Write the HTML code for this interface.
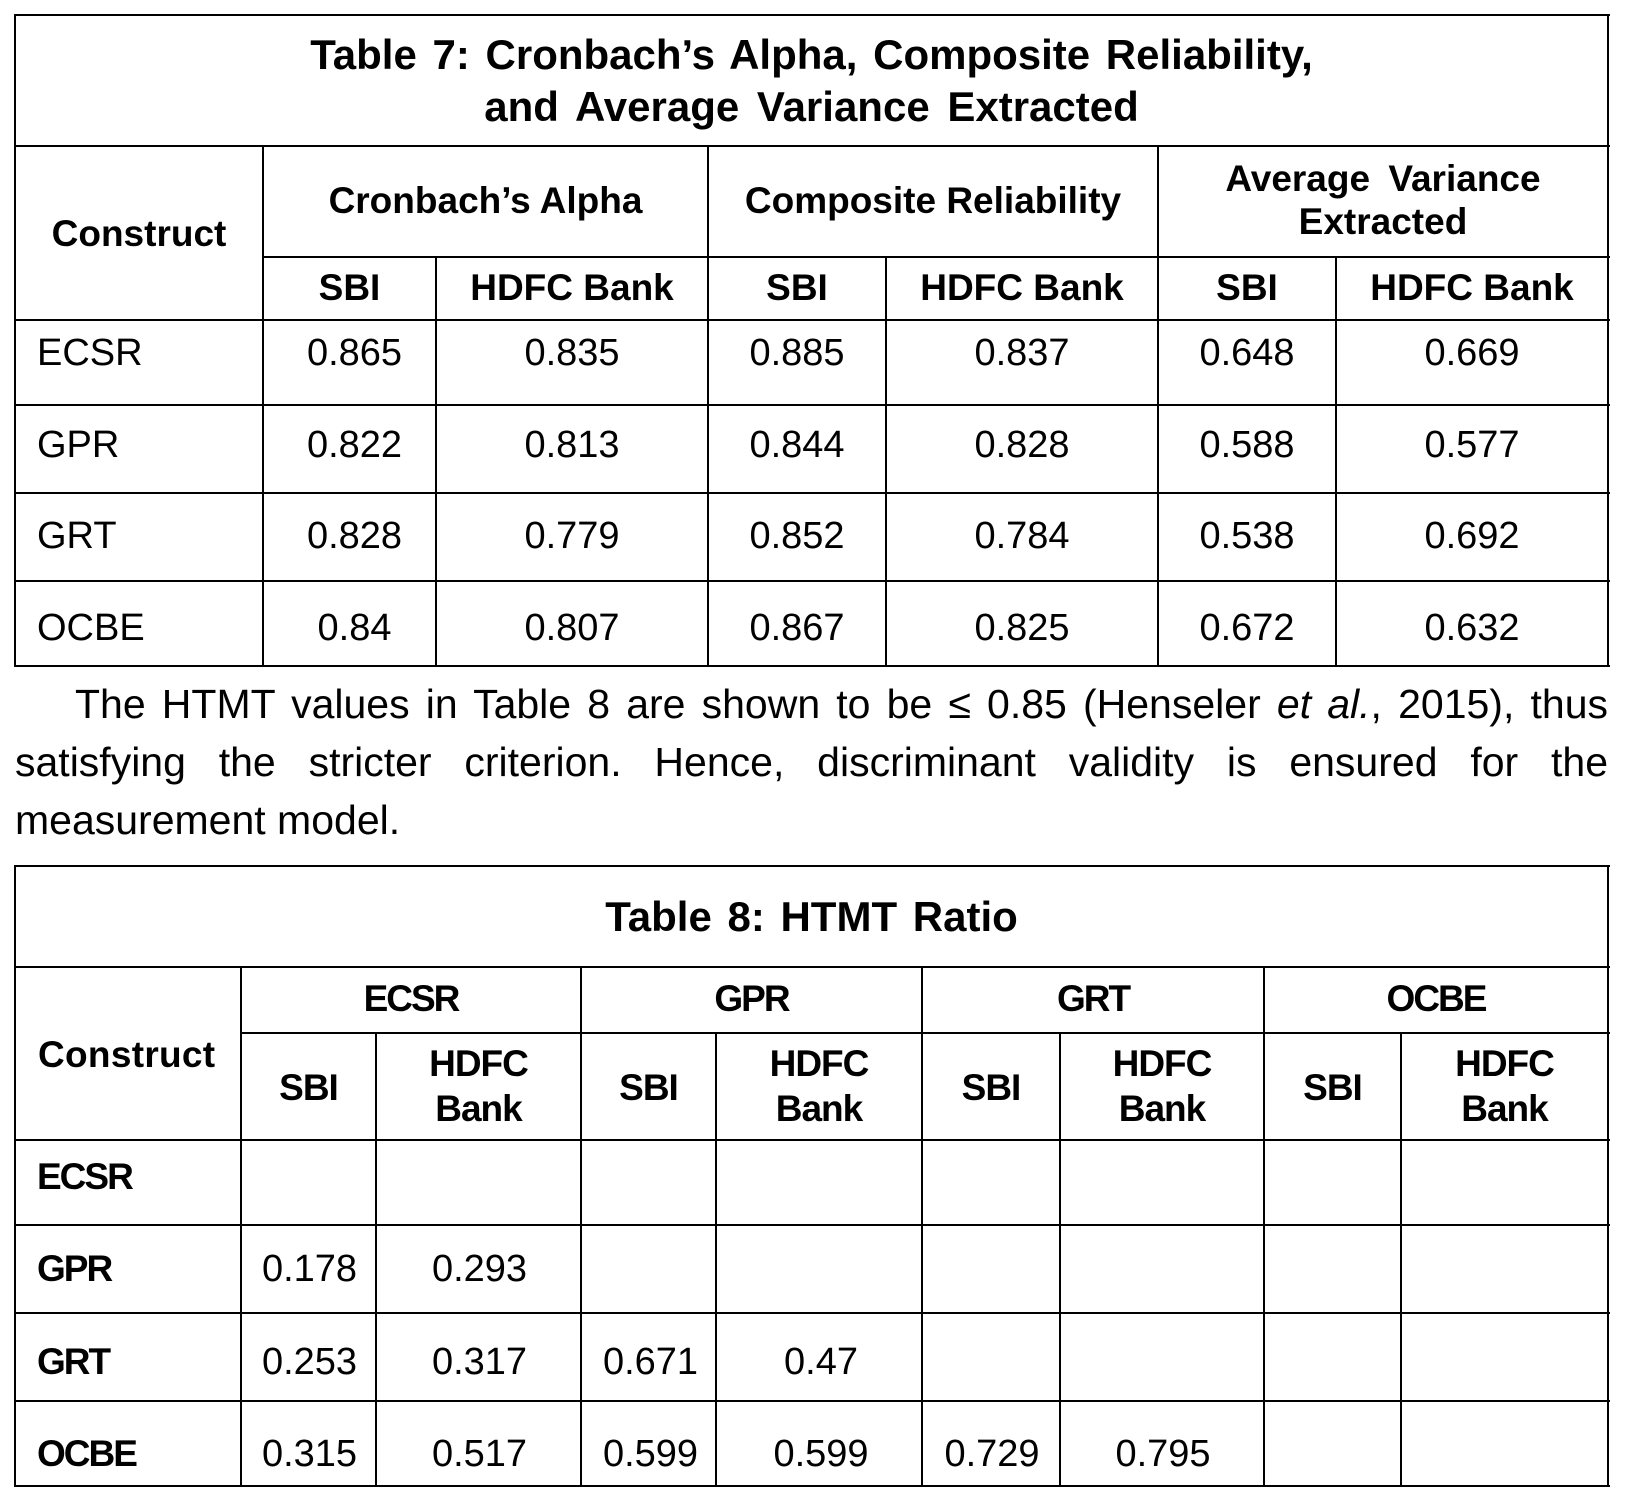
<!DOCTYPE html>
<html>
<head>
<meta charset="utf-8">
<style>
html,body{margin:0;padding:0;background:#fff;}
body{width:1629px;height:1506px;position:relative;overflow:hidden;font-family:"Liberation Sans",Arial,sans-serif;color:#000;}
.h{position:absolute;height:2px;background:#000;}
.v{position:absolute;width:2px;background:#000;}
.c{position:absolute;text-align:center;line-height:50px;height:50px;white-space:nowrap;}
.l{text-align:left;}
.ti{font-size:42px;font-weight:bold;word-spacing:4px;}
.hd{font-size:37px;font-weight:bold;}
.d{font-size:38px;}
.tt{letter-spacing:-2px;}
.t1{letter-spacing:-1px;}
.p{position:absolute;font-size:41px;line-height:50px;height:50px;text-align:justify;text-align-last:justify;}
</style>
</head>
<body>
<!-- TABLE 7 LINES -->
<div class="h" style="left:14px;width:1596px;top:14px"></div>
<div class="h" style="left:14px;width:1596px;top:145px"></div>
<div class="h" style="left:262px;width:1348px;top:256px"></div>
<div class="h" style="left:14px;width:1596px;top:319px"></div>
<div class="h" style="left:14px;width:1596px;top:404px"></div>
<div class="h" style="left:14px;width:1596px;top:492px"></div>
<div class="h" style="left:14px;width:1596px;top:580px"></div>
<div class="h" style="left:14px;width:1596px;top:665px"></div>

<div class="v" style="left:14px;top:14px;height:653px"></div>
<div class="v" style="left:1607px;top:14px;height:653px"></div>
<div class="v" style="left:262px;top:145px;height:521px"></div>
<div class="v" style="left:707px;top:145px;height:521px"></div>
<div class="v" style="left:1157px;top:145px;height:521px"></div>
<div class="v" style="left:435px;top:256px;height:410px"></div>
<div class="v" style="left:885px;top:256px;height:410px"></div>
<div class="v" style="left:1335px;top:256px;height:410px"></div>

<!-- TABLE 7 TEXT -->
<div class="c ti" style="left:15px;width:1593px;top:30px">Table 7: Cronbach’s Alpha, Composite Reliability,</div>
<div class="c ti" style="left:15px;width:1593px;top:82px;word-spacing:6px">and Average Variance Extracted</div>

<div class="c hd" style="left:15px;width:248px;top:209px">Construct</div>
<div class="c hd" style="left:263px;width:445px;top:176px">Cronbach’s Alpha</div>
<div class="c hd" style="left:708px;width:450px;top:176px">Composite Reliability</div>
<div class="c hd" style="left:1158px;width:450px;top:154px;word-spacing:8px">Average Variance</div>
<div class="c hd" style="left:1158px;width:450px;top:197px">Extracted</div>

<div class="c hd" style="left:263px;width:173px;top:263px">SBI</div>
<div class="c hd" style="left:436px;width:272px;top:263px">HDFC Bank</div>
<div class="c hd" style="left:708px;width:178px;top:263px">SBI</div>
<div class="c hd" style="left:886px;width:272px;top:263px">HDFC Bank</div>
<div class="c hd" style="left:1158px;width:178px;top:263px">SBI</div>
<div class="c hd" style="left:1336px;width:272px;top:263px">HDFC Bank</div>

<!-- rows -->
<div class="c d l" style="left:37px;top:328px">ECSR</div>
<div class="c d" style="left:268px;width:173px;top:328px">0.865</div>
<div class="c d" style="left:436px;width:272px;top:328px">0.835</div>
<div class="c d" style="left:708px;width:178px;top:328px">0.885</div>
<div class="c d" style="left:886px;width:272px;top:328px">0.837</div>
<div class="c d" style="left:1158px;width:178px;top:328px">0.648</div>
<div class="c d" style="left:1336px;width:272px;top:328px">0.669</div>

<div class="c d l" style="left:37px;top:420px">GPR</div>
<div class="c d" style="left:268px;width:173px;top:420px">0.822</div>
<div class="c d" style="left:436px;width:272px;top:420px">0.813</div>
<div class="c d" style="left:708px;width:178px;top:420px">0.844</div>
<div class="c d" style="left:886px;width:272px;top:420px">0.828</div>
<div class="c d" style="left:1158px;width:178px;top:420px">0.588</div>
<div class="c d" style="left:1336px;width:272px;top:420px">0.577</div>

<div class="c d l" style="left:37px;top:511px">GRT</div>
<div class="c d" style="left:268px;width:173px;top:511px">0.828</div>
<div class="c d" style="left:436px;width:272px;top:511px">0.779</div>
<div class="c d" style="left:708px;width:178px;top:511px">0.852</div>
<div class="c d" style="left:886px;width:272px;top:511px">0.784</div>
<div class="c d" style="left:1158px;width:178px;top:511px">0.538</div>
<div class="c d" style="left:1336px;width:272px;top:511px">0.692</div>

<div class="c d l" style="left:37px;top:603px">OCBE</div>
<div class="c d" style="left:268px;width:173px;top:603px">0.84</div>
<div class="c d" style="left:436px;width:272px;top:603px">0.807</div>
<div class="c d" style="left:708px;width:178px;top:603px">0.867</div>
<div class="c d" style="left:886px;width:272px;top:603px">0.825</div>
<div class="c d" style="left:1158px;width:178px;top:603px">0.672</div>
<div class="c d" style="left:1336px;width:272px;top:603px">0.632</div>

<!-- PARAGRAPH -->
<div class="p" style="left:75px;width:1533px;top:679px">The HTMT values in Table 8 are shown to be ≤ 0.85 (Henseler <i>et al.</i>, 2015), thus</div>
<div class="p" style="left:15px;width:1593px;top:737px">satisfying the stricter criterion. Hence, discriminant validity is ensured for the</div>
<div class="p" style="left:15px;width:600px;top:795px;text-align:left;text-align-last:left">measurement model.</div>

<!-- TABLE 8 LINES -->
<div class="h" style="left:14px;width:1596px;top:865px"></div>
<div class="h" style="left:14px;width:1596px;top:966px"></div>
<div class="h" style="left:240px;width:1370px;top:1032px"></div>
<div class="h" style="left:14px;width:1596px;top:1139px"></div>
<div class="h" style="left:14px;width:1596px;top:1224px"></div>
<div class="h" style="left:14px;width:1596px;top:1312px"></div>
<div class="h" style="left:14px;width:1596px;top:1400px"></div>
<div class="h" style="left:14px;width:1596px;top:1485px"></div>

<div class="v" style="left:14px;top:865px;height:622px"></div>
<div class="v" style="left:1607px;top:865px;height:622px"></div>
<div class="v" style="left:240px;top:966px;height:520px"></div>
<div class="v" style="left:580px;top:966px;height:520px"></div>
<div class="v" style="left:921px;top:966px;height:520px"></div>
<div class="v" style="left:1263px;top:966px;height:520px"></div>
<div class="v" style="left:375px;top:1032px;height:454px"></div>
<div class="v" style="left:715px;top:1032px;height:454px"></div>
<div class="v" style="left:1059px;top:1032px;height:454px"></div>
<div class="v" style="left:1400px;top:1032px;height:454px"></div>

<!-- TABLE 8 TEXT -->
<div class="c ti" style="left:15px;width:1593px;top:892px">Table 8: HTMT Ratio</div>

<div class="c hd l" style="left:38px;top:1030px;letter-spacing:0.3px">Construct</div>

<div class="c hd tt" style="left:241px;width:340px;top:974px">ECSR</div>
<div class="c hd tt" style="left:581px;width:341px;top:974px">GPR</div>
<div class="c hd tt" style="left:922px;width:342px;top:974px">GRT</div>
<div class="c hd tt" style="left:1264px;width:344px;top:974px">OCBE</div>

<div class="c hd t1" style="left:241px;width:135px;top:1063px">SBI</div>
<div class="c hd t1" style="left:376px;width:205px;top:1039px">HDFC</div>
<div class="c hd t1" style="left:376px;width:205px;top:1084px">Bank</div>
<div class="c hd t1" style="left:581px;width:135px;top:1063px">SBI</div>
<div class="c hd t1" style="left:716px;width:206px;top:1039px">HDFC</div>
<div class="c hd t1" style="left:716px;width:206px;top:1084px">Bank</div>
<div class="c hd t1" style="left:922px;width:138px;top:1063px">SBI</div>
<div class="c hd t1" style="left:1060px;width:204px;top:1039px">HDFC</div>
<div class="c hd t1" style="left:1060px;width:204px;top:1084px">Bank</div>
<div class="c hd t1" style="left:1264px;width:137px;top:1063px">SBI</div>
<div class="c hd t1" style="left:1401px;width:207px;top:1039px">HDFC</div>
<div class="c hd t1" style="left:1401px;width:207px;top:1084px">Bank</div>

<div class="c hd tt l" style="left:37px;top:1152px">ECSR</div>

<div class="c hd tt l" style="left:37px;top:1244px">GPR</div>
<div class="c d" style="left:242px;width:135px;top:1244px">0.178</div>
<div class="c d" style="left:377px;width:205px;top:1244px">0.293</div>

<div class="c hd tt l" style="left:37px;top:1337px">GRT</div>
<div class="c d" style="left:242px;width:135px;top:1337px">0.253</div>
<div class="c d" style="left:377px;width:205px;top:1337px">0.317</div>
<div class="c d" style="left:583px;width:135px;top:1337px">0.671</div>
<div class="c d" style="left:718px;width:206px;top:1337px">0.47</div>

<div class="c hd tt l" style="left:37px;top:1429px">OCBE</div>
<div class="c d" style="left:242px;width:135px;top:1429px">0.315</div>
<div class="c d" style="left:377px;width:205px;top:1429px">0.517</div>
<div class="c d" style="left:583px;width:135px;top:1429px">0.599</div>
<div class="c d" style="left:718px;width:206px;top:1429px">0.599</div>
<div class="c d" style="left:923px;width:138px;top:1429px">0.729</div>
<div class="c d" style="left:1061px;width:204px;top:1429px">0.795</div>
</body>
</html>
